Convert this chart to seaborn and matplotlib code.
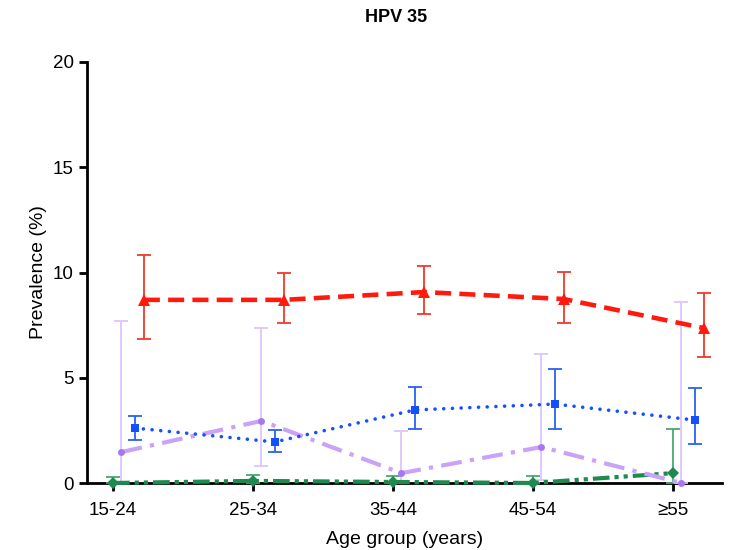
import numpy as np
import pandas as pd
import matplotlib
matplotlib.use("Agg")
import matplotlib.pyplot as plt
import seaborn as sns

# Data
age_groups = ["15-24", "25-34", "35-44", "45-54", "≥55"]

red_vals = [8.7, 8.7, 9.07, 8.74, 7.36]
red_low = [6.84, 7.6, 8.03, 7.6, 5.99]
red_high = [10.83, 9.97, 10.3, 10.02, 9.03]

blue_vals = [2.61, 1.95, 3.47, 3.75, 2.99]
blue_low = [2.04, 1.47, 2.56, 2.56, 1.85]
blue_high = [3.18, 2.52, 4.56, 5.42, 4.51]

purple_vals = [1.47, 2.95, 0.47, 1.71, 0.0]
purple_low = [0.0, 0.81, 0.0, 0.15, 0.0]
purple_high = [7.7, 7.36, 2.47, 6.13, 8.6]

green_vals = [0.0, 0.1, 0.05, 0.0, 0.47]
green_low = [0.0, 0.0, 0.0, 0.0, 0.0]
green_high = [0.3, 0.4, 0.35, 0.35, 2.56]

sns.set_style("ticks")
plt.rcParams["font.family"] = ["Liberation Sans", "DejaVu Sans"]
plt.rcParams["text.color"] = "black"
plt.rcParams["axes.labelcolor"] = "black"
plt.rcParams["xtick.color"] = "black"
plt.rcParams["ytick.color"] = "black"

fig = plt.figure(figsize=(7.42, 5.5), dpi=100)
ax = fig.add_axes([87 / 742, 67 / 550, 635 / 742, 421 / 550])

x = np.arange(len(age_groups))

series = [
    # values, low, high, offset, line colour, err colour, marker, dashes, lw, ms
    (green_vals, green_low, green_high, 0.0, "#1f8a50", "#4aa874", "D", (4, 1.2, 1, 1.2, 1, 1.2), 3.0, 6),
    (purple_vals, purple_low, purple_high, 0.06, "#c9a3f7", "#dcc6fa", "o", (5, 2, 1, 2), 3.0, 5),
    (blue_vals, blue_low, blue_high, 0.155, "#1450ff", "#2a62f0", "s", (0.01, 2.4), 2.6, 6),
    (red_vals, red_low, red_high, 0.22, "#ff1a0d", "#f03a2a", "^", (3.5, 1.8), 3.3, 8),
]

for vals, low, high, off, col, ecol, mk, dash, lw, ms in series:
    xs = x + off
    v = np.array(vals)
    yerr = [v - np.array(low), np.array(high) - v]
    ax.errorbar(xs, v, yerr=yerr, fmt="none", ecolor=ecol, elinewidth=1.3,
                capsize=5, capthick=1.3, zorder=3, clip_on=False)
    df = pd.DataFrame({"x": xs, "y": v})
    sns.lineplot(data=df, x="x", y="y", ax=ax, color=col, linewidth=lw,
                 marker=mk, markersize=ms, markeredgewidth=0,
                 zorder=4, clip_on=False)
    ln = ax.lines[-1]
    ln.set_dashes(dash)
    if mk == "s":
        ln.set_dash_capstyle("round")
    if mk == "o":
        ln.set_markerfacecolor("#a877f0")

ax.set_xlim(-0.186, 4.35)
ax.set_ylim(0, 20)
ax.set_yticks([0, 5, 10, 15, 20])
ax.set_xticks(x)
ax.set_xticklabels(age_groups)
ax.tick_params(axis="both", labelsize=13.5, width=2, length=6, color="black")
ax.tick_params(axis="x", pad=8)
for s in ["top", "right"]:
    ax.spines[s].set_visible(False)
for s in ["left", "bottom"]:
    ax.spines[s].set_linewidth(2)
    ax.spines[s].set_color("black")
ax.spines["bottom"].set_zorder(2)

ax.set_xlabel("Age group (years)", fontsize=14, labelpad=8)
ax.set_ylabel("Prevalence (%)", fontsize=14)
fig.text(0.5335, 0.968, "HPV 35", ha="center", va="center", fontsize=13, fontweight="bold")

fig.savefig("out.png", dpi=100)
